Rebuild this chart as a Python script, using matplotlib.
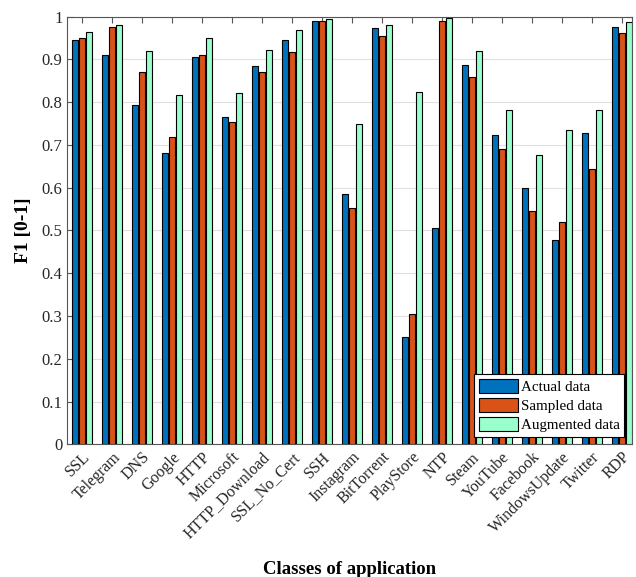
import numpy as np
import matplotlib
matplotlib.use('Agg')
import matplotlib.pyplot as plt

classes = ['SSL', 'Telegram', 'DNS', 'Google', 'HTTP', 'Microsoft', 'HTTP_Download',
           'SSL_No_Cert', 'SSH', 'Instagram', 'BitTorrent', 'PlayStore', 'NTP', 'Steam',
           'YouTube', 'Facebook', 'WindowsUpdate', 'Twitter', 'RDP']
actual = [0.945, 0.910, 0.794, 0.681, 0.905, 0.766, 0.885, 0.945, 0.990, 0.586,
          0.973, 0.250, 0.505, 0.888, 0.723, 0.600, 0.478, 0.727, 0.975]
sampled = [0.951, 0.975, 0.871, 0.718, 0.910, 0.753, 0.871, 0.918, 0.990, 0.552,
           0.955, 0.305, 0.990, 0.860, 0.690, 0.545, 0.521, 0.643, 0.962]
augmented = [0.963, 0.981, 0.919, 0.818, 0.950, 0.822, 0.921, 0.968, 0.994, 0.750,
             0.980, 0.825, 0.997, 0.920, 0.781, 0.676, 0.735, 0.781, 0.988]

plt.rcParams['font.family'] = ['Liberation Serif', 'DejaVu Serif']

fig = plt.figure(figsize=(6.36, 5.77), dpi=100)
ax = fig.add_axes([0.1058, 0.2300, 0.8874, 0.7411])

x = np.arange(1, len(classes) + 1)
w = 0.2
step = 0.227
ax.bar(x - step, actual, w, color='#0072BD', edgecolor='black', linewidth=0.8, label='Actual data', zorder=3)
ax.bar(x, sampled, w, color='#D95319', edgecolor='black', linewidth=0.8, label='Sampled data', zorder=3)
ax.bar(x + step, augmented, w, color='#99FFCC', edgecolor='black', linewidth=0.8, label='Augmented data', zorder=3)

ax.set_xlim(0.5, 19.33)
ax.set_ylim(0, 1)
ax.set_yticks(np.arange(0, 1.01, 0.1))
ax.set_yticklabels(['0', '0.1', '0.2', '0.3', '0.4', '0.5', '0.6', '0.7', '0.8', '0.9', '1'])
ax.set_xticks(x)
ax.set_xticklabels(classes, rotation=45, ha='right', rotation_mode='anchor')
ax.tick_params(axis='both', direction='in', top=True, right=True, labelsize=11.5,
               length=4, color='#555555', labelcolor='#262626')
ax.tick_params(axis='y', labelsize=12)
ax.yaxis.grid(True, color='#e0e0e0', linewidth=0.8, zorder=0)
for s in ax.spines.values():
    s.set_color('#555555')
    s.set_linewidth(0.8)

ax.set_ylabel('F1 [0-1]', fontsize=14, fontweight='bold', labelpad=7)
ax.set_xlabel('Classes of application', fontsize=13.5, fontweight='bold', labelpad=14)

leg = ax.legend(loc='lower right', fontsize=10.8, handlelength=2.6, handleheight=1.1,
                handletextpad=0.2, borderpad=0.3, labelspacing=0.25, borderaxespad=0.5,
                fancybox=False, framealpha=1, edgecolor='black')
leg.get_frame().set_linewidth(0.8)

fig.savefig('out.png', dpi=100)
